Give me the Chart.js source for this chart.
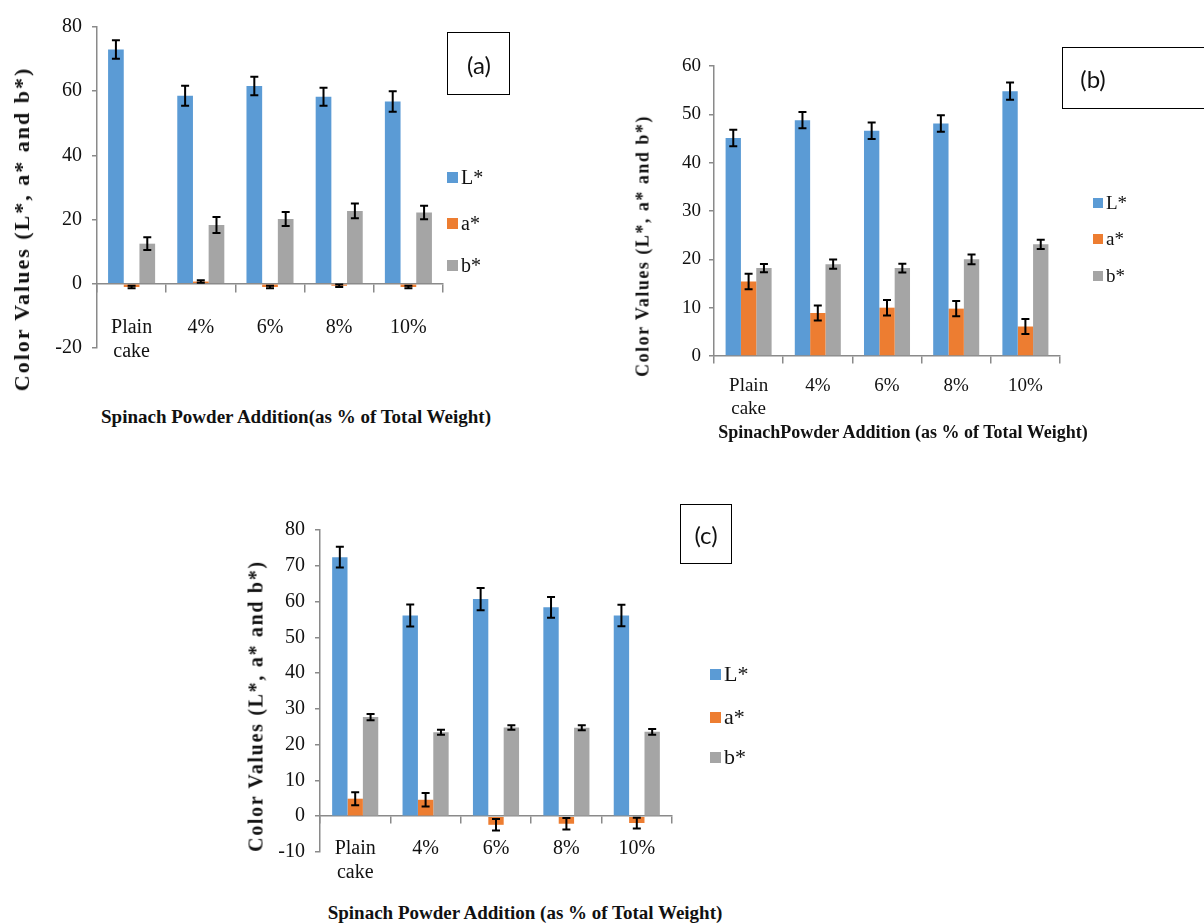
<!DOCTYPE html>
<html lang="en">
<head>
<meta charset="UTF-8">
<title>Color values of cakes with spinach powder</title>
<script src="https://cdn.jsdelivr.net/npm/chart.js"></script>
<style>
  body { margin: 0; background: #fff; }
  #page { position: relative; width: 1204px; height: 924px; overflow: hidden; font-family: "Liberation Serif", "Times New Roman", serif; color: #111; }
  canvas { position: absolute; }
  .ttl { position: absolute; white-space: nowrap; font-weight: bold; transform: translate(-50%, -50%); }
  .ttl.rot { transform: translate(-50%, -50%) rotate(-90deg); }
  .tag { position: absolute; border: 1.5px solid #000; box-sizing: border-box; font-family: Lato, "Open Sans", sans-serif; }
  .tag span { position: absolute; transform: translate(-50%, -50%); }
  .leg { position: absolute; white-space: nowrap; }
  .leg i { position: absolute; display: block; }
</style>
</head>
<body>
<div id="page">
  <canvas id="chartA" width="460" height="400" style="left:0;top:0"></canvas>
  <canvas id="chartB" width="584" height="390" style="left:620px;top:40px"></canvas>
  <canvas id="chartC" width="450" height="390" style="left:250px;top:500px"></canvas>

  <div class="ttl rot" style="left:22px;top:229px;font-size:22px;letter-spacing:2px">Color Values (L*, a* and b*)</div>
  <div class="ttl" style="left:296px;top:417px;font-size:19px">Spinach Powder Addition(as % of Total Weight)</div>
  <div class="tag" style="left:447px;top:32px;width:63px;height:63px"><span style="left:31px;top:31px;font-size:24px">(a)</span></div>

  <div class="ttl rot" style="left:643px;top:246px;font-size:18px;letter-spacing:1.5px">Color Values (L*, a* and b*)</div>
  <div class="ttl" style="left:903px;top:432px;font-size:18px">SpinachPowder Addition (as % of Total Weight)</div>
  <div class="tag" style="left:1062px;top:47px;width:160px;height:62px"><span style="left:30px;top:30px;font-size:24px">(b)</span></div>

  <div class="ttl rot" style="left:256px;top:706px;font-size:20px;letter-spacing:1.7px">Color Values (L*, a* and b*)</div>
  <div class="ttl" style="left:525px;top:913px;font-size:19px">Spinach Powder Addition (as % of Total Weight)</div>
  <div class="tag" style="left:680px;top:504px;width:52px;height:60px"><span style="left:25px;top:29px;font-size:24px">(c)</span></div>
</div>

<script>
// categories and series
const CATEGORIES = [['Plain', 'cake'], '4%', '6%', '8%', '10%'];
const SERIES = ['L*', 'a*', 'b*'];
const COLORS = ['#5B9BD5', '#ED7D31', '#A5A5A5'];

// (a)
const A_TICKS = [-20, 0, 20, 40, 60, 80];
const A_L = [73.0, 58.6, 61.6, 58.3, 56.8];
const A_L_ERR = [2.9, 3.1, 2.9, 2.8, 3.2];
const A_A = [-1.0, 0.7, -1.0, -0.6, -1.0];
const A_A_ERR = [0.4, 0.4, 0.4, 0.4, 0.4];
const A_B = [12.5, 18.3, 20.2, 22.7, 22.2];
const A_B_ERR = [2.0, 2.5, 2.2, 2.3, 2.1];

// (b)
const B_TICKS = [0, 10, 20, 30, 40, 50, 60];
const B_L = [45.1, 48.8, 46.6, 48.1, 54.8];
const B_L_ERR = [1.7, 1.7, 1.7, 1.7, 1.8];
const B_A = [15.4, 8.9, 10.0, 9.8, 6.1];
const B_A_ERR = [1.6, 1.55, 1.6, 1.6, 1.55];
const B_B = [18.2, 19.0, 18.2, 20.0, 23.1];
const B_B_ERR = [0.85, 0.95, 0.9, 1.0, 0.95];

// (c)
const C_TICKS = [-10, 0, 10, 20, 30, 40, 50, 60, 70, 80];
const C_L = [72.4, 56.1, 60.7, 58.4, 56.1];
const C_L_ERR = [2.9, 3.1, 3.1, 2.9, 3.0];
const C_A = [4.9, 4.6, -2.4, -2.1, -1.9];
const C_A_ERR = [1.8, 1.9, 1.6, 1.6, 1.5];
const C_B = [27.7, 23.5, 24.8, 24.7, 23.6];
const C_B_ERR = [0.85, 0.7, 0.6, 0.7, 0.8];

const AXIS = '#8a8a8a';
const SERIF = "'Liberation Serif', 'Times New Roman', serif";
Chart.defaults.font.family = SERIF;

const errorBars = {
  id: 'errorBars',
  afterDatasetsDraw(chart) {
    const ctx = chart.ctx, y = chart.scales.y;
    ctx.save();
    ctx.strokeStyle = '#000';
    ctx.lineWidth = 2;
    chart.data.datasets.forEach((ds, i) => {
      chart.getDatasetMeta(i).data.forEach((bar, j) => {
        const top = y.getPixelForValue(ds.data[j] + ds.errors[j]);
        const bot = y.getPixelForValue(ds.data[j] - ds.errors[j]);
        ctx.beginPath();
        ctx.moveTo(bar.x, top); ctx.lineTo(bar.x, bot);
        ctx.moveTo(bar.x - 4, top); ctx.lineTo(bar.x + 4, top);
        ctx.moveTo(bar.x - 4, bot); ctx.lineTo(bar.x + 4, bot);
        ctx.stroke();
      });
    });
    ctx.restore();
  }
};

function makeChart(id, p) {
  const font = { family: SERIF, size: p.fontSize };
  return new Chart(document.getElementById(id), {
    type: 'bar',
    data: {
      labels: CATEGORIES,
      datasets: SERIES.map((s, i) => ({
        label: s,
        data: p.vals[i],
        errors: p.errs[i],
        backgroundColor: COLORS[i],
        categoryPercentage: p.catPct,
        barPercentage: 1.0
      }))
    },
    options: {
      responsive: false,
      devicePixelRatio: 1,
      animation: false,
      layout: { padding: p.pad },
      plugins: { legend: { display: false }, tooltip: { enabled: false } },
      scales: {
        x: {
          position: { y: 0 },
          grid: { drawOnChartArea: false, offset: true, color: AXIS, tickLength: p.xTick, lineWidth: 1.5 },
          border: { color: AXIS, width: 1.5 },
          ticks: { color: '#111', font: font, padding: p.xPad, maxRotation: 0 }
        },
        y: {
          min: p.ticks[0],
          max: p.ticks[p.ticks.length - 1],
          afterFit: s => { s.width = p.yWidth; },
          grid: { drawOnChartArea: false, color: AXIS, tickLength: 5, lineWidth: 1.5 },
          border: { color: AXIS, width: 1.5 },
          ticks: { color: '#111', font: font, padding: p.yPad, stepSize: p.ticks[1] - p.ticks[0] }
        }
      }
    },
    plugins: [errorBars]
  });
}

makeChart('chartA', {
  vals: [A_L, A_A, A_B], errs: [A_L_ERR, A_A_ERR, A_B_ERR], ticks: A_TICKS,
  pad: { left: 0, top: 27, right: 17, bottom: 52 }, yWidth: 97,
  fontSize: 20, catPct: 0.68, xTick: 8, xPad: 24, yPad: 10
});
makeChart('chartB', {
  vals: [B_L, B_A, B_B], errs: [B_L_ERR, B_A_ERR, B_B_ERR], ticks: B_TICKS,
  pad: { left: 0, top: 26, right: 144, bottom: 74 }, yWidth: 94,
  fontSize: 19, catPct: 0.665, xTick: 7, xPad: 12, yPad: 8
});
makeChart('chartC', {
  vals: [C_L, C_A, C_B], errs: [C_L_ERR, C_A_ERR, C_B_ERR], ticks: C_TICKS,
  pad: { left: 0, top: 30, right: 28, bottom: 38 }, yWidth: 70,
  fontSize: 20, catPct: 0.655, xTick: 7, xPad: 14, yPad: 10
});

// legends
function makeLegend(x, ys, box, size) {
  const page = document.getElementById('page');
  SERIES.forEach((s, i) => {
    const sw = document.createElement('i');
    sw.style.cssText = `left:${x}px;top:${ys[i] - box / 2}px;width:${box}px;height:${box}px;background:${COLORS[i]}`;
    sw.className = 'leg';
    page.appendChild(sw);
    const t = document.createElement('div');
    t.className = 'leg';
    t.textContent = s;
    t.style.cssText = `left:${x + box + 3}px;top:${ys[i]}px;font-size:${size}px;transform:translateY(-50%)`;
    page.appendChild(t);
  });
}
makeLegend(447, [177, 223, 265], 11, 20);
makeLegend(1093, [203, 239, 276], 10, 19);
makeLegend(710, [674, 717, 757], 11, 22);
</script>
</body>
</html>
